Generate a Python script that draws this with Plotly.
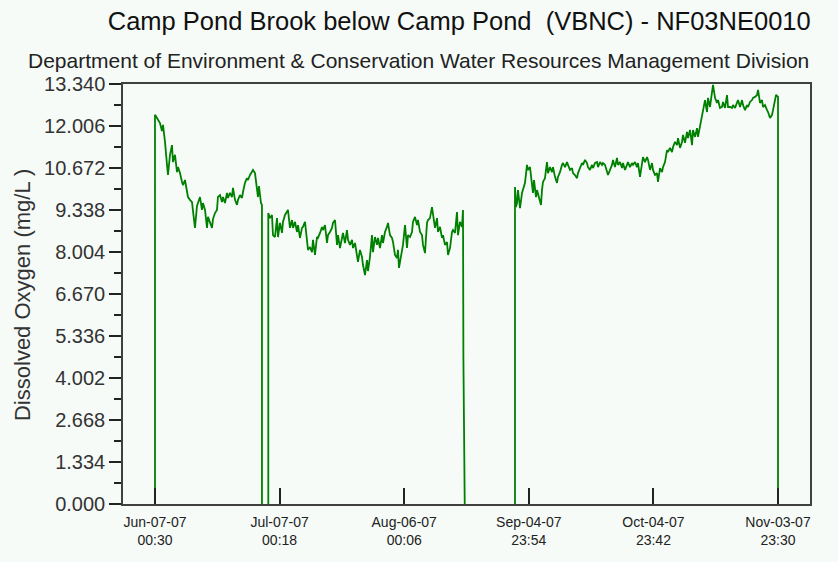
import pandas as pd
import plotly.graph_objects as go

# Dissolved oxygen record, Camp Pond Brook below Camp Pond (2007 deployment).
# Times are days elapsed since the first reading; values in mg/L.
RECORD_START = "2007-06-07 00:30"

seg1_days = [0.00, 0.00, 0.48, 0.72, 1.20, 1.68, 1.93, 2.41, 2.65, 2.89, 3.13, 3.61, 4.09, 4.33,
             4.81, 5.30, 5.54, 6.02, 6.50, 6.74, 7.22, 7.70, 7.94, 8.42, 8.91, 9.15, 9.63, 10.11,
             10.35, 10.83, 11.31, 11.55, 12.04, 12.52, 12.76, 13.24, 13.72, 13.96, 14.44, 14.92,
             15.16, 15.65, 16.13, 16.37, 16.85, 17.33, 17.57, 18.05, 18.53, 18.77, 19.26, 19.74,
             19.98, 20.46, 20.94, 21.18, 21.66, 22.14, 22.39, 22.87, 23.35, 23.59, 24.07, 24.55,
             24.79, 25.03, 25.51, 25.75, 25.75]
seg1_do = [0.00, 12.36, 12.26, 12.20, 12.10, 11.85, 12.04, 11.50, 10.93, 10.77, 10.45, 11.09, 11.40, 10.86,
           11.09, 10.54, 10.70, 10.51, 10.23, 10.13, 10.29, 9.97, 9.75, 9.66, 9.59, 9.30, 8.77, 9.47,
           9.59, 9.75, 9.34, 9.56, 9.34, 8.77, 9.12, 8.93, 8.77, 9.05, 9.24, 9.34,
           9.75, 9.81, 9.59, 9.75, 9.56, 9.88, 9.72, 9.88, 9.75, 10.04, 9.66, 9.50,
           9.66, 9.81, 9.72, 9.91, 10.20, 10.35, 10.29, 10.45, 10.54, 10.61, 10.51, 10.04,
           9.75, 10.10, 9.56, 9.50, 0.00]

seg2_days = [27.27, 27.27, 27.68, 28.16, 28.40, 28.88, 29.37, 29.61, 30.09, 30.57, 30.81, 31.29, 32.01,
             32.49, 32.98, 33.22, 33.70, 34.18, 34.42, 34.90, 35.38, 35.62, 36.11, 36.59, 36.83,
             37.31, 37.79, 38.03, 38.51, 38.99, 39.23, 39.72, 40.20, 40.44, 40.92, 41.40, 41.64,
             42.12, 42.60, 42.84, 43.33, 43.81, 44.05, 44.53, 45.01, 45.25, 45.73, 46.21, 46.46,
             46.94, 47.42, 47.66, 48.14, 48.62, 48.86, 49.34, 49.82, 50.07, 50.55, 51.03, 51.27,
             51.75, 52.23, 52.47, 52.95, 53.44, 53.68, 54.16, 54.64, 54.88, 55.36, 55.84, 56.08,
             56.56, 57.05, 57.29, 57.77, 58.25, 58.49, 58.73, 59.21, 59.69, 60.18, 60.66, 60.90,
             61.38, 61.86, 62.10, 62.58, 63.06, 63.30, 63.79, 64.27, 64.51, 64.99, 65.47, 65.71,
             66.19, 66.67, 66.91, 67.40, 67.88, 68.12, 68.60, 69.08, 69.32, 69.80, 70.28, 70.53,
             71.01, 71.49, 71.73, 72.21, 72.69, 72.93, 73.41, 73.89, 74.14, 74.23, 74.55]
seg2_do = [0.00, 9.24, 9.08, 9.18, 8.54, 8.48, 9.08, 8.48, 8.93, 8.61, 8.96, 9.18, 9.34,
           8.77, 9.02, 8.77, 8.96, 8.64, 8.86, 8.45, 8.77, 8.80, 8.96, 8.48, 8.07,
           8.16, 8.00, 8.39, 7.91, 8.48, 8.45, 8.61, 8.80, 8.70, 8.86, 8.29, 8.54,
           8.64, 8.77, 8.93, 9.02, 8.23, 8.54, 8.13, 8.45, 8.61, 8.29, 8.70, 8.39,
           8.23, 8.39, 8.13, 8.29, 7.97, 7.69, 8.07, 7.85, 7.59, 7.27, 7.75, 7.40,
           7.85, 8.54, 8.00, 8.48, 8.23, 8.45, 8.13, 8.54, 8.29, 8.64, 8.80, 8.93,
           8.54, 8.45, 8.32, 7.91, 7.81, 8.07, 7.50, 7.91, 8.23, 8.86, 8.13, 8.54,
           8.48, 8.64, 8.96, 9.12, 8.86, 9.02, 8.64, 8.54, 8.23, 7.97, 8.93, 9.02,
           9.08, 9.43, 9.18, 8.77, 9.08, 8.64, 8.80, 8.45, 8.54, 8.23, 8.32, 7.91,
           8.13, 8.64, 8.70, 8.61, 9.27, 8.54, 8.96, 8.80, 9.34, 4.67, 0.00]

seg3_days = [86.65, 86.65, 86.89, 87.13, 87.37, 87.86, 88.34, 88.58, 89.06, 89.54, 89.78, 90.26, 90.50,
             90.98, 91.23, 91.71, 91.95, 92.43, 92.91, 93.15, 93.39, 93.87, 94.35, 94.60, 95.08,
             95.56, 95.80, 96.28, 96.76, 97.00, 97.48, 97.96, 98.21, 98.69, 99.17, 99.41, 99.89,
             100.37, 100.61, 101.09, 101.58, 101.82, 102.30, 102.78, 103.02, 103.50, 103.98, 104.22,
             104.70, 105.19, 105.43, 105.91, 106.39, 106.63, 107.11, 107.59, 107.83, 108.32, 109.04,
             109.52, 110.00, 110.24, 110.72, 111.20, 111.45, 111.93, 112.41, 112.65, 113.13, 113.61,
             113.85, 114.33, 114.81, 115.06, 115.54, 116.02, 116.26, 116.74, 117.22, 117.46, 117.94,
             118.43, 118.67, 119.15, 119.63, 119.87, 120.35, 120.83, 121.07, 121.56, 122.04, 122.28,
             122.76, 123.24, 123.48, 123.96, 124.44, 124.69, 125.17, 125.65, 125.89, 126.37, 126.85,
             127.09, 127.57, 128.06, 128.30, 128.78, 129.26, 129.50, 129.98, 130.46, 130.70, 131.18,
             131.67, 131.91, 132.39, 132.87, 133.11, 133.59, 134.07, 134.31, 134.80, 135.28, 135.52,
             136.00, 136.48, 136.72, 137.20, 137.68, 137.93, 138.41, 138.89, 139.13, 139.61, 140.09,
             140.33, 140.82, 141.30, 141.54, 142.02, 142.50, 142.74, 143.22, 143.70, 143.94, 144.43,
             144.91, 145.15, 145.63, 146.11, 146.35, 146.83, 147.32, 147.56, 148.04, 148.52, 148.76,
             149.24, 149.48, 149.96, 149.96]
seg3_do = [0.00, 10.07, 9.43, 9.56, 9.97, 9.40, 9.88, 9.97, 10.20, 10.77, 10.61, 10.70, 10.39,
           9.88, 10.29, 9.75, 9.97, 9.72, 9.50, 9.97, 10.23, 10.35, 10.86, 10.51, 10.70,
           10.54, 10.70, 10.39, 10.20, 10.39, 10.54, 10.77, 10.83, 10.70, 10.86, 10.77, 10.61,
           10.67, 10.51, 10.45, 10.35, 10.51, 10.70, 10.83, 10.77, 10.93, 10.83, 10.70,
           10.61, 10.77, 10.67, 10.83, 10.86, 10.70, 10.86, 10.77, 10.83, 10.77, 10.45,
           10.61, 10.77, 10.93, 10.70, 10.99, 10.77, 10.86, 10.67, 10.83, 10.61, 10.77,
           10.86, 10.70, 10.83, 10.77, 10.86, 10.70, 10.83, 10.39, 10.86, 11.02, 10.86,
           11.02, 10.93, 10.61, 10.83, 10.61, 10.45, 10.51, 10.23, 10.67, 10.54, 10.70,
           10.86, 11.24, 11.18, 11.31, 11.18, 11.34, 11.50, 11.40, 11.62, 11.31, 11.50,
           11.72, 11.47, 11.82, 11.62, 11.88, 11.40, 11.88, 11.66, 11.94, 11.66, 11.97,
           12.26, 12.45, 12.83, 12.45, 12.90, 12.61, 13.05, 13.31, 12.90, 12.74, 12.83,
           12.58, 12.61, 12.77, 12.58, 12.99, 12.61, 12.61, 12.58, 12.67, 12.58, 12.74,
           12.83, 12.61, 12.83, 12.67, 12.51, 12.67, 12.61, 12.77, 12.83, 12.90, 12.93,
           12.99, 13.15, 12.74, 12.83, 12.61, 12.67, 12.51, 12.45, 12.26, 12.36, 12.51,
           12.77, 12.99, 12.93, 0.00]

tick_times = ["2007-06-07 00:30", "2007-07-07 00:18", "2007-08-06 00:06",
              "2007-09-04 23:54", "2007-10-04 23:42", "2007-11-03 23:30"]
tick_labels = ["Jun-07-07<br>00:30", "Jul-07-07<br>00:18", "Aug-06-07<br>00:06",
               "Sep-04-07<br>23:54", "Oct-04-07<br>23:42", "Nov-03-07<br>23:30"]

Y_MAX = 13.34
Y_STEP = 1.334

# Join the deployments, breaking the line between them
days, values = [], []
for d, v in [(seg1_days, seg1_do), (seg2_days, seg2_do), (seg3_days, seg3_do)]:
    if days:
        days.append(None)
        values.append(None)
    days.extend(d)
    values.extend(v)

start = pd.Timestamp(RECORD_START)
times = [None if d is None else start + pd.to_timedelta(d, unit="D") for d in days]

end = pd.Timestamp(tick_times[-1])
pad = pd.Timedelta(days=7.7)

FONT = "Liberation Sans, Arial, Helvetica, sans-serif"
BG = "#F6FBF8"
AXIS = "#404040"

fig = go.Figure()
fig.add_trace(go.Scatter(
    x=times, y=values, mode="lines",
    line=dict(color="#008000", width=1.8),
    connectgaps=False, hoverinfo="skip", showlegend=False,
))

fig.update_layout(
    width=838, height=562,
    margin=dict(l=123, r=28, t=84, b=58, pad=0),
    paper_bgcolor=BG, plot_bgcolor=BG,
    font=dict(family=FONT, color="#222222"),
    title=dict(
        text="Camp Pond Brook below Camp Pond  (VBNC) - NF03NE0010",
        x=0.548, xanchor="center", xref="container",
        y=1 - 21 / 562, yanchor="middle", yref="container",
        font=dict(size=25.5, color="#111111", family=FONT),
    ),
    annotations=[
        dict(text="Department of Environment & Conservation Water Resources Management Division",
             xref="paper", yref="paper", x=0.430, y=1.057, xanchor="center", yanchor="middle",
             showarrow=False, font=dict(size=21, color="#222222", family=FONT)),
        dict(text="Dissolved Oxygen (mg/L )",
             xref="paper", yref="paper", x=-0.147, y=0.4976, xanchor="center", yanchor="middle",
             textangle=-90, showarrow=False, font=dict(size=22, color="#333333", family=FONT)),
    ],
)

fig.update_xaxes(
    type="date",
    range=[start - pad, end + pad],
    tickmode="array", tickvals=tick_times, ticktext=tick_labels,
    ticks="inside", ticklen=16, tickwidth=1.5, tickcolor="#222222",
    ticklabelstandoff=4,
    tickfont=dict(size=14, color="#222222", family=FONT),
    showgrid=False, zeroline=False,
    showline=True, linecolor=AXIS, linewidth=1.5, mirror=True,
)

fig.update_yaxes(
    range=[0, Y_MAX],
    tickmode="linear", tick0=0, dtick=Y_STEP, tickformat=".3f",
    ticks="outside", ticklen=12, tickwidth=1.5, tickcolor="#222222",
    minor=dict(ticks="outside", tick0=0, dtick=Y_STEP / 2, ticklen=7,
               tickwidth=1.5, tickcolor="#222222", showgrid=False),
    tickfont=dict(size=20, color="#333333", family=FONT),
    showgrid=False, zeroline=False,
    showline=True, linecolor=AXIS, linewidth=1.5, mirror=True,
)

fig.write_html("out.html")
